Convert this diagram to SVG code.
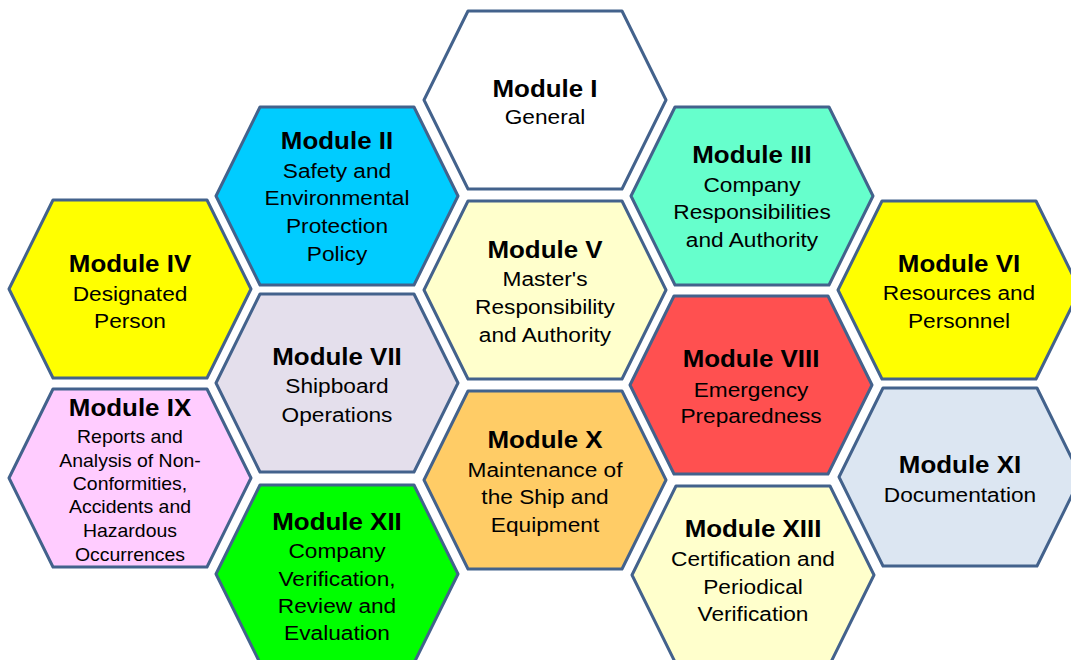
<svg xmlns="http://www.w3.org/2000/svg" xmlns:xlink="http://www.w3.org/1999/xlink" width="1071" height="660" viewBox="0 0 1071 660">
<style>
.hex{stroke:#43628c;stroke-width:3;stroke-linejoin:round}
text{font-family:"Liberation Sans",Arial,sans-serif;fill:#000;text-anchor:middle}
.t{font-size:24px;font-weight:bold}
.b{font-size:21px}
.s{font-size:18px}
</style>
<defs>
<polygon id="hx" points="-121,0 -77,-89 77,-89 121,0 77,89 -77,89"/>
</defs>
<rect width="1071" height="660" fill="#fff"/>
<g id="connectors"/>
<g id="m1"><use xlink:href="#hx" class="hex" x="545" y="100" fill="#ffffff"/>
<g transform="translate(545,0) scale(1.08,1)"><text class="t" y="97">Module I</text><text class="b" y="124">General</text></g></g>
<g id="m2"><use xlink:href="#hx" class="hex" x="337" y="196" fill="#00ccff"/>
<g transform="translate(337,0) scale(1.08,1)"><text class="t" y="149">Module II</text><text class="b" y="178">Safety and</text><text class="b" y="205">Environmental</text><text class="b" y="233">Protection</text><text class="b" y="261">Policy</text></g></g>
<g id="m3"><use xlink:href="#hx" class="hex" x="752" y="196" fill="#66ffcc"/>
<g transform="translate(752,0) scale(1.08,1)"><text class="t" y="163">Module III</text><text class="b" y="192">Company</text><text class="b" y="219">Responsibilities</text><text class="b" y="247">and Authority</text></g></g>
<g id="m4"><use xlink:href="#hx" class="hex" x="130" y="289" fill="#ffff00"/>
<g transform="translate(130,0) scale(1.08,1)"><text class="t" y="272">Module IV</text><text class="b" y="301">Designated</text><text class="b" y="328">Person</text></g></g>
<g id="m5"><use xlink:href="#hx" class="hex" x="545" y="290" fill="#ffffcc"/>
<g transform="translate(545,0) scale(1.08,1)"><text class="t" y="258">Module V</text><text class="b" y="286">Master's</text><text class="b" y="314">Responsibility</text><text class="b" y="342">and Authority</text></g></g>
<g id="m6"><use xlink:href="#hx" class="hex" x="959" y="290" fill="#ffff00"/>
<g transform="translate(959,0) scale(1.08,1)"><text class="t" y="272">Module VI</text><text class="b" y="300">Resources and</text><text class="b" y="328">Personnel</text></g></g>
<g id="m7"><use xlink:href="#hx" class="hex" x="337" y="383" fill="#e4dfec"/>
<g transform="translate(337,0) scale(1.08,1)"><text class="t" y="365">Module VII</text><text class="b" y="393">Shipboard</text><text class="b" y="422">Operations</text></g></g>
<g id="m8"><use xlink:href="#hx" class="hex" x="751" y="385" fill="#ff5050"/>
<g transform="translate(751,0) scale(1.08,1)"><text class="t" y="367">Module VIII</text><text class="b" y="397">Emergency</text><text class="b" y="423">Preparedness</text></g></g>
<g id="m9"><use xlink:href="#hx" class="hex" x="130" y="478" fill="#ffccff"/>
<g transform="translate(130,0) scale(1.08,1)"><text class="t" y="416">Module IX</text><text class="s" y="443">Reports and</text><text class="s" y="467">Analysis of Non-</text><text class="s" y="490">Conformities,</text><text class="s" y="513">Accidents and</text><text class="s" y="537">Hazardous</text><text class="s" y="561">Occurrences</text></g></g>
<g id="m10"><use xlink:href="#hx" class="hex" x="545" y="480" fill="#ffcc66"/>
<g transform="translate(545,0) scale(1.08,1)"><text class="t" y="448">Module X</text><text class="b" y="477">Maintenance of</text><text class="b" y="504">the Ship and</text><text class="b" y="532">Equipment</text></g></g>
<g id="m11"><use xlink:href="#hx" class="hex" x="960" y="477" fill="#dce6f2"/>
<g transform="translate(960,0) scale(1.08,1)"><text class="t" y="473">Module XI</text><text class="b" y="502">Documentation</text></g></g>
<g id="m12"><use xlink:href="#hx" class="hex" x="337" y="574" fill="#00ff00"/>
<g transform="translate(337,0) scale(1.08,1)"><text class="t" y="530">Module XII</text><text class="b" y="558">Company</text><text class="b" y="586">Verification,</text><text class="b" y="613">Review and</text><text class="b" y="640">Evaluation</text></g></g>
<g id="m13"><use xlink:href="#hx" class="hex" x="753" y="575" fill="#ffffcc"/>
<g transform="translate(753,0) scale(1.08,1)"><text class="t" y="537">Module XIII</text><text class="b" y="566">Certification and</text><text class="b" y="594">Periodical</text><text class="b" y="621">Verification</text></g></g>
</svg>
